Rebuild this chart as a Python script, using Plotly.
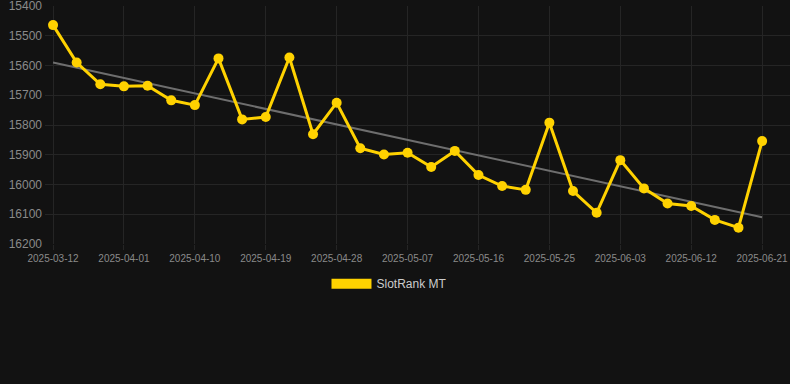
import numpy as np
import plotly.graph_objects as go

dates = [
    "2025-03-12", "2025-03-19", "2025-03-26",
    "2025-04-01", "2025-04-04", "2025-04-07", "2025-04-10", "2025-04-13", "2025-04-16",
    "2025-04-19", "2025-04-22", "2025-04-25", "2025-04-28", "2025-05-01", "2025-05-04",
    "2025-05-07", "2025-05-10", "2025-05-13", "2025-05-16", "2025-05-19", "2025-05-22",
    "2025-05-25", "2025-05-28", "2025-05-31", "2025-06-03", "2025-06-06", "2025-06-09",
    "2025-06-12", "2025-06-15", "2025-06-18", "2025-06-21",
]
ranks = [
    15464, 15590, 15663, 15670, 15668, 15717, 15733, 15576, 15781, 15773,
    15573, 15831, 15725, 15878, 15899, 15893, 15941, 15887, 15968, 16005,
    16018, 15792, 16022, 16095, 15918, 16013, 16064, 16072, 16119, 16145,
    15854,
]
y_ticks = [15400, 15500, 15600, 15700, 15800, 15900, 16000, 16100, 16200]
series_name = "SlotRank MT"

idx = np.arange(len(ranks))
slope, intercept = np.polyfit(idx, ranks, 1)
trend = (slope * idx + intercept).tolist()

gold = "#FFD200"
grid = "#252525"
bg = "#121212"

fig = go.Figure()
fig.add_trace(go.Scatter(
    x=dates, y=trend, mode="lines",
    line=dict(color="#6e6e6e", width=2),
    showlegend=False, hoverinfo="skip",
))
fig.add_trace(go.Scatter(
    x=dates, y=ranks, mode="lines+markers",
    line=dict(color=gold, width=3),
    marker=dict(color=gold, size=10),
    showlegend=False,
))
fig.add_trace(go.Scatter(
    x=[None], y=[None], mode="lines",
    line=dict(color=gold, width=12),
    name=series_name,
))

fig.update_layout(
    width=790, height=384,
    paper_bgcolor=bg, plot_bgcolor=bg,
    margin=dict(l=45, r=0, t=6, b=140),
    font=dict(family="Liberation Sans, Arial, sans-serif", color="#8a8a8a"),
    showlegend=True,
    legend=dict(
        orientation="h", x=0.4624, xanchor="center", y=-0.106, yanchor="top",
        font=dict(size=12, color="#cccccc"),
        bgcolor="rgba(0,0,0,0)",
        itemwidth=40,
    ),
    xaxis=dict(
        type="category",
        categoryorder="array", categoryarray=dates,
        tickvals=dates[::3], ticktext=dates[::3],
        range=[-0.34, 31.18],
        showgrid=True, gridcolor=grid, gridwidth=1,
        ticks="outside", ticklen=5, tickcolor=grid,
        tickfont=dict(size=10, color="#8a8a8a"),
        zeroline=False, showline=False,
        ticklabeloverflow="allow",
    ),
    yaxis=dict(
        range=[16200, 15399.8],
        tickvals=y_ticks,
        tickformat="d",
        showgrid=True, gridcolor=grid, gridwidth=1,
        tickfont=dict(size=12, color="#8a8a8a"),
        zeroline=False, showline=False,
        ticklabelstandoff=2,
        ticklabeloverflow="allow",
        automargin=False,
    ),
)

fig.write_html(
    "out.html",
    config={"displayModeBar": False},
    post_script="document.body.style.margin='0';document.body.style.background='#121212';",
)
